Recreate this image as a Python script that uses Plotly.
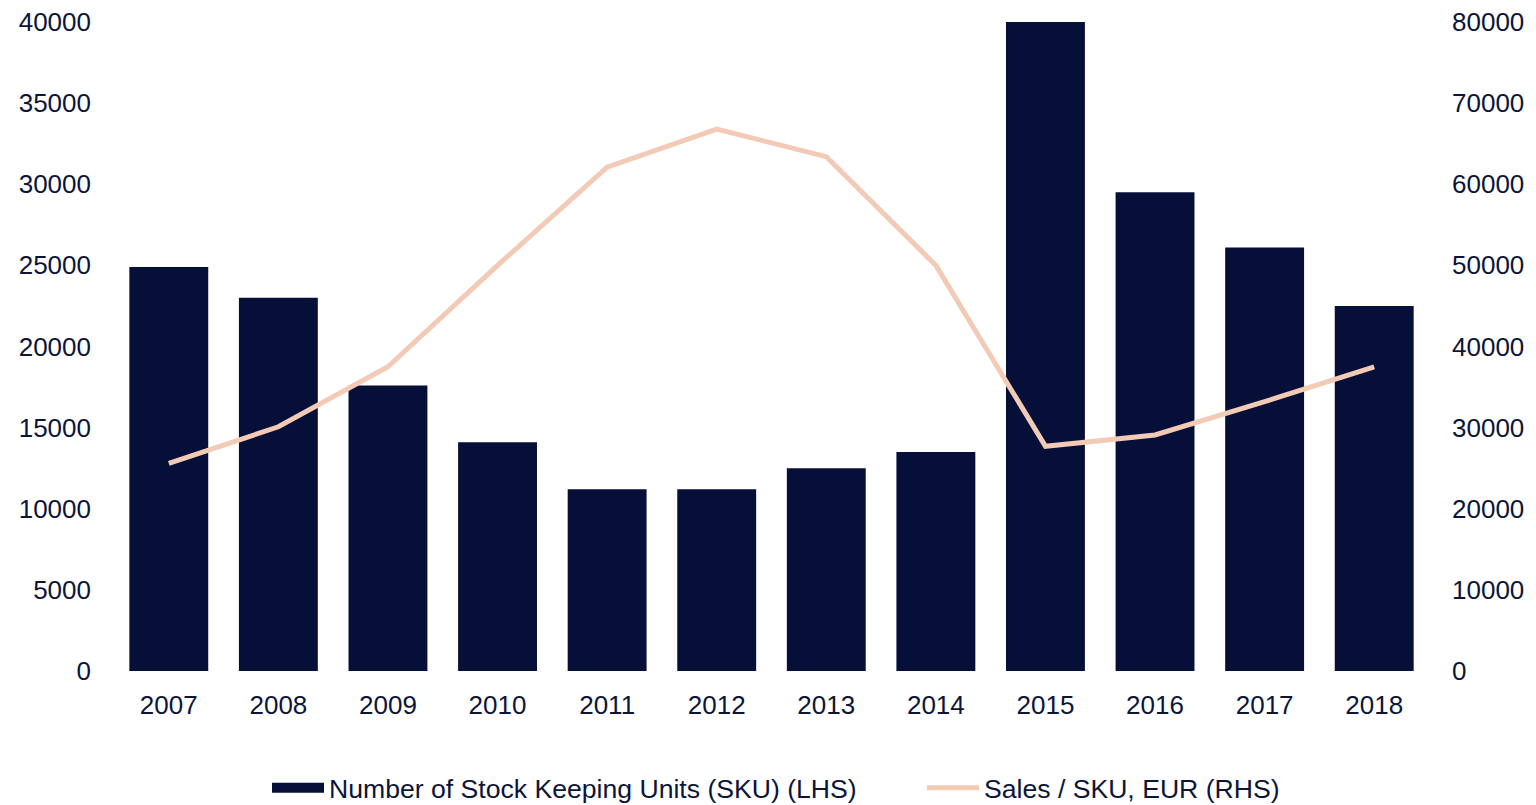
import plotly.graph_objects as go

years = ["2007", "2008", "2009", "2010", "2011", "2012", "2013", "2014", "2015", "2016", "2017", "2018"]
sku_count = [24900, 23000, 17600, 14100, 11200, 11200, 12500, 13500, 40000, 29500, 26100, 22500]
sales_per_sku = [25600, 30100, 37500, 50000, 62100, 66800, 63400, 50000, 27700, 29100, 33200, 37500]

BAR_COLOR = "#060f38"
LINE_COLOR = "#f2cab5"
TEXT_COLOR = "#0c1538"
FONT = "Liberation Sans, Arial, sans-serif"

fig = go.Figure()
fig.add_trace(go.Bar(
    x=years, y=sku_count, name="Number of Stock Keeping Units (SKU) (LHS)",
    marker=dict(color=BAR_COLOR, line=dict(width=0)), yaxis="y", showlegend=False,
))
# legend-only proxy so the bar legend key is a wide rectangle as in the reference
fig.add_trace(go.Scatter(
    x=[None], y=[None], name="Number of Stock Keeping Units (SKU) (LHS)", mode="lines",
    line=dict(color=BAR_COLOR, width=14), showlegend=True, legend="legend",
))
fig.add_trace(go.Scatter(
    x=years, y=sales_per_sku, name="Sales / SKU, EUR (RHS)", mode="lines",
    line=dict(color=LINE_COLOR, width=5), yaxis="y2", legend="legend2",
))

legend_common = dict(orientation="h", xref="container", yref="container",
                     xanchor="left", yanchor="middle", y=1 - 788 / 805,
                     font=dict(size=26.6, color=TEXT_COLOR), itemwidth=52,
                     bgcolor="rgba(0,0,0,0)")

fig.update_layout(
    width=1536, height=805,
    margin=dict(l=114, r=107, t=22, b=134, autoexpand=False),
    paper_bgcolor="white", plot_bgcolor="white",
    font=dict(family=FONT, size=26, color=TEXT_COLOR),
    bargap=0.28,
    showlegend=True,
    legend=dict(x=267 / 1536, **legend_common),
    legend2=dict(x=922 / 1536, **legend_common),
    xaxis=dict(type="category", showgrid=False, showline=False, zeroline=False,
               ticks="", ticklabelstandoff=16, tickfont=dict(size=26), automargin=False),
    yaxis=dict(range=[0, 40000], dtick=5000, showgrid=False, zeroline=False,
               showline=False, ticks="", tickformat="d", ticklabelstandoff=22,
               tickfont=dict(size=26), automargin=False),
    yaxis2=dict(range=[0, 80000], dtick=10000, overlaying="y", side="right",
                showgrid=False, zeroline=False, showline=False, ticks="",
                tickformat="d", ticklabelstandoff=22, tickfont=dict(size=26),
                automargin=False),
)

fig.write_html("out.html", config={"displayModeBar": False},
               post_script="document.body.style.margin='0';")
